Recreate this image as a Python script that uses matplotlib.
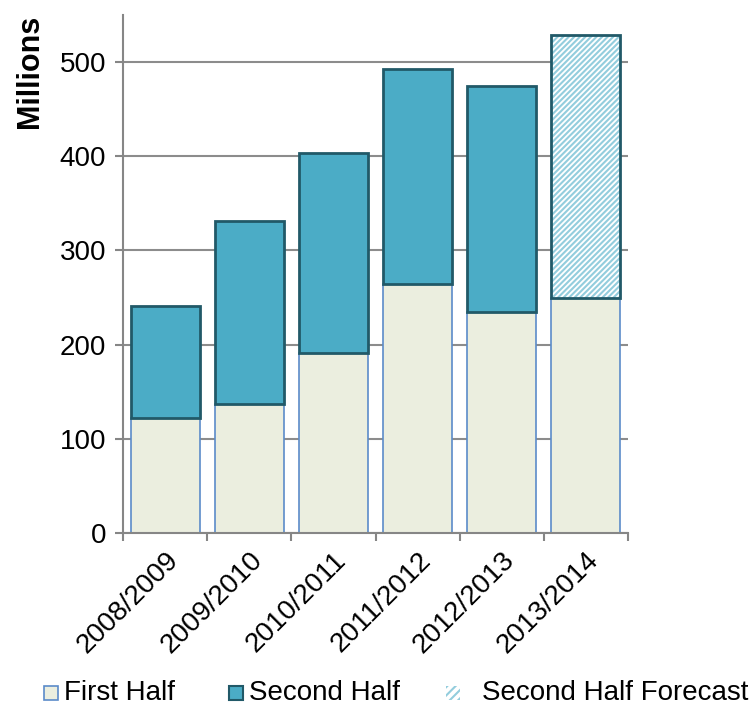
import matplotlib.pyplot as plt
from matplotlib.patches import Rectangle

seasons = ['2008/2009', '2009/2010', '2010/2011', '2011/2012', '2012/2013', '2013/2014']
first_half = [122, 137, 191, 264, 235, 249]
second_half = [119, 194, 212, 229, 240, 0]
second_half_forecast = [0, 0, 0, 0, 0, 280]
legend_labels = ['First Half', 'Second Half', 'Second Half Forecast']

plt.rcParams['font.family'] = ['Liberation Sans', 'DejaVu Sans']
plt.rcParams['hatch.linewidth'] = 1.5

C_FIRST = '#EBEEDF'
C_FIRST_EDGE = '#5B8BC9'
C_SECOND = '#4BACC6'
C_SECOND_EDGE = '#215968'
C_HATCH = '#93CDDD'
FS = 20


def main():
    fig = plt.figure(figsize=(7.56, 7.07), dpi=100)
    ax = fig.add_axes([0.1627, 0.2461, 0.668, 0.7327])
    x = list(range(len(seasons)))
    w = 0.82

    ax.bar(x, first_half, width=w, color=C_FIRST, edgecolor=C_FIRST_EDGE,
           linewidth=1.2, zorder=2)
    actual = [i for i in x if second_half[i] > 0]
    ax.bar(actual, [second_half[i] for i in actual], width=w,
           bottom=[first_half[i] for i in actual], color=C_SECOND,
           edgecolor=C_SECOND_EDGE, linewidth=2, zorder=2)
    # forecast: hatch first, then dark outline on top
    fc = [i for i in x if second_half_forecast[i] > 0]
    fc_h = [second_half_forecast[i] for i in fc]
    fc_b = [first_half[i] for i in fc]
    ax.bar(fc, fc_h, width=w, bottom=fc_b, color='white', hatch='//////',
           edgecolor=C_HATCH, linewidth=0, zorder=2)
    ax.bar(fc, fc_h, width=w, bottom=fc_b, fill=False,
           edgecolor=C_SECOND_EDGE, linewidth=2, zorder=3)

    ax.set_xlim(-0.5, len(seasons) - 0.5)
    ax.set_ylim(0, 550)
    ax.set_yticks([0, 100, 200, 300, 400, 500])
    ax.yaxis.grid(True, color='#8C8C8C', linewidth=1.5, zorder=0)
    ax.set_axisbelow(True)
    for s in ['top', 'right']:
        ax.spines[s].set_visible(False)
    for s in ['left', 'bottom']:
        ax.spines[s].set_color('#868686')
        ax.spines[s].set_linewidth(1.5)

    ax.set_xticks([i - 0.5 for i in range(len(seasons) + 1)])
    ax.set_xticklabels([])
    ax.tick_params(axis='x', length=6, color='#868686', width=1.5)
    ax.set_xticks(x, minor=True)
    ax.set_xticklabels(seasons, minor=True, rotation=45, ha='right',
                       rotation_mode='anchor', fontsize=FS)
    ax.tick_params(axis='x', which='minor', length=0, pad=10)
    ax.tick_params(axis='y', length=6, color='#868686', width=1.5,
                   labelsize=FS, pad=6)

    fig.text(30 / 756, 1 - 15 / 707, 'Millions', rotation=90, va='top',
             ha='center', fontsize=22, fontweight='bold')

    # legend drawn by hand along the bottom
    W, H = 756, 707
    yc = 693
    sq = 14
    items = [
        (44, 64, dict(facecolor=C_FIRST, edgecolor=C_FIRST_EDGE, linewidth=1.2)),
        (229, 249, dict(facecolor=C_SECOND, edgecolor=C_SECOND_EDGE, linewidth=1.5)),
        (446, 482, dict(facecolor='white', edgecolor=C_HATCH, hatch='////', linewidth=0)),
    ]
    for (xs, xt, style), label in zip(items, legend_labels):
        fig.patches.append(Rectangle((xs / W, 1 - (yc + sq / 2) / H), sq / W, sq / H,
                                     transform=fig.transFigure, **style))
        fig.text(xt / W, 1 - yc / H, label, ha='left', va='center', fontsize=FS)

    fig.savefig('out.png', dpi=100)


if __name__ == '__main__':
    main()
